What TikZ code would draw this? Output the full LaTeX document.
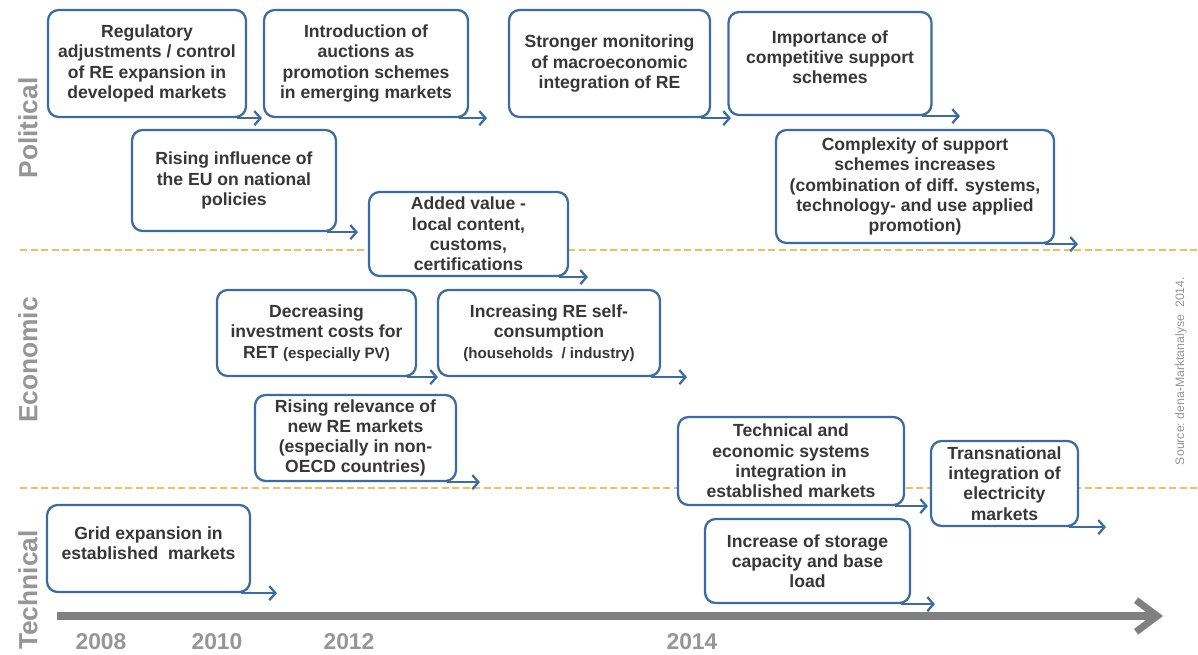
\documentclass[tikz,border=0pt]{standalone}
\usepackage{fontspec}
\setmainfont{Liberation Sans}
\usetikzlibrary{arrows.meta}
\definecolor{boxblue}{RGB}{58,108,162}
\definecolor{txt}{RGB}{55,55,55}
\definecolor{lbl}{RGB}{150,150,150}
\definecolor{dashc}{RGB}{240,192,96}
\definecolor{tl}{RGB}{128,128,128}
\newcommand{\smallpar}[1]{{\fontsize{8.6}{11.5}\selectfont #1}}
\newcommand{\liftup}[1]{\rule[-#1]{0pt}{#1}}
\tikzset{
 box/.style={draw=boxblue, line width=1.3pt, rounded corners=6pt, align=center, text=txt,
   font=\bfseries\fontsize{10}{11.5}\selectfont, inner sep=1pt, fill=white},
 flow/.style={draw=boxblue, line width=1.3pt, -{Straight Barb[length=3.5pt,width=8pt]}},
 lane/.style={text=lbl, font=\bfseries\fontsize{15}{15}\selectfont, rotate=90},
 year/.style={text=lbl, font=\bfseries\fontsize{13}{13}\selectfont},
 sep/.style={draw=dashc, line width=1.5pt, dash pattern=on 4pt off 2pt},
 timeline/.style={draw=tl, line width=4.5pt, -{Straight Barb[length=12pt,width=18pt,line width=4pt]}},
 src/.style={text=lbl, font=\fontsize{7}{8}\selectfont, rotate=90},
}
\begin{document}
\begin{tikzpicture}[x=0.02cm,y=-0.02cm]
\useasboundingbox (0,0) rectangle (1198,655);

% separators
\coordinate (s1a) at (20,250); \coordinate (s1b) at (1198,250);
\coordinate (s2a) at (20,488); \coordinate (s2b) at (1198,488);
\draw[sep] (s1a) -- (s1b);
\draw[sep] (s2a) -- (s2b);

% lane labels
\node[lane] (lpol) at (28,128) {Political};
\node[lane] (leco) at (28,360) {Economic};
\node[lane] (ltec) at (28,590) {Technical};
\node[src] (source) at (1181,371) {Source:\ dena-Marktanalyse\ \ 2014.};

% boxes
\node[box, minimum width=3.96cm, minimum height=2.14cm] (b1) at (147,63.5)
  {Regulatory\\adjustments / control\\of RE expansion in\\developed markets};
\node[box, minimum width=4.08cm, minimum height=2.14cm] (b2) at (366,63.5)
  {Introduction of\\auctions as\\promotion schemes\\in emerging markets};
\node[box, minimum width=4.02cm, minimum height=2.14cm] (b3) at (609.5,63.5)
  {Stronger monitoring\\of macroeconomic\\integration of RE};
\node[box, minimum width=4.06cm, minimum height=2.06cm] (b4) at (830,63.5)
  {Importance of\\competitive support\\schemes\liftup{7.5pt}};
\node[box, minimum width=4.08cm, minimum height=2.02cm] (b5) at (234,180.5)
  {Rising influence of\\the EU on national\\policies};
\node[box, minimum width=5.56cm, minimum height=2.26cm] (b6) at (915,186.5)
  {Complexity of support\\schemes increases\\(combination of diff. systems,\\technology- and use applied\\promotion)};
\node[box, minimum width=3.98cm, minimum height=1.68cm] (b7) at (468.5,234)
  {Added value -\\local content,\\customs,\\certifications};
\node[box, minimum width=3.98cm, minimum height=1.72cm] (b8) at (316.5,333)
  {Decreasing\\investment costs for\\RET \smallpar{(especially PV)}};
\node[box, minimum width=4.44cm, minimum height=1.72cm] (b9) at (549,333)
  {Increasing RE self-\\consumption\\\smallpar{(households \ / industry)}};
\node[box, minimum width=4.02cm, minimum height=1.72cm] (b10) at (355.5,438)
  {Rising relevance of\\new RE markets\\(especially in non-\\OECD countries)};
\node[box, minimum width=4.52cm, minimum height=1.76cm] (b11) at (791,461)
  {Technical and\\economic systems\\integration in\\established markets};
\node[box, minimum width=2.94cm, minimum height=1.70cm] (b12) at (1004.5,483.5)
  {Transnational\\integration of\\electricity\\markets};
\node[box, minimum width=4.06cm, minimum height=1.74cm] (b13) at (148.5,548.5)
  {Grid expansion in\\established \ markets\liftup{6pt}};
\node[box, minimum width=4.10cm, minimum height=1.68cm] (b14) at (807.5,561)
  {Increase of storage\\capacity and base\\load};

% arrow ends
\coordinate (e1) at (262,117);
\coordinate (e2) at (487,117);
\coordinate (e3) at (731,117);
\coordinate (e4) at (960,116);
\coordinate (e5) at (358,231);
\coordinate (e6) at (1078,243);
\coordinate (e7) at (588,276);
\coordinate (e8) at (438,376);
\coordinate (e9) at (687,377);
\coordinate (e10) at (480,481);
\coordinate (e11) at (928,505);
\coordinate (e12) at (1106,527);
\coordinate (e13) at (277,592);
\coordinate (e14) at (935,603);

\foreach \i in {1,...,14}{
  \draw[flow] ([xshift=-6pt]b\i.south east) -- (e\i |- b\i.south east);
}

% timeline
\coordinate (t0) at (57,616);
\coordinate (t1) at (1163,616);
\draw[timeline] (t0) -- (t1);

\node[year] (y08) at (101,642) {2008};
\node[year] (y10) at (217,642) {2010};
\node[year] (y12) at (349,642) {2012};
\node[year] (y14) at (692,642) {2014};
\end{tikzpicture}
\end{document}
